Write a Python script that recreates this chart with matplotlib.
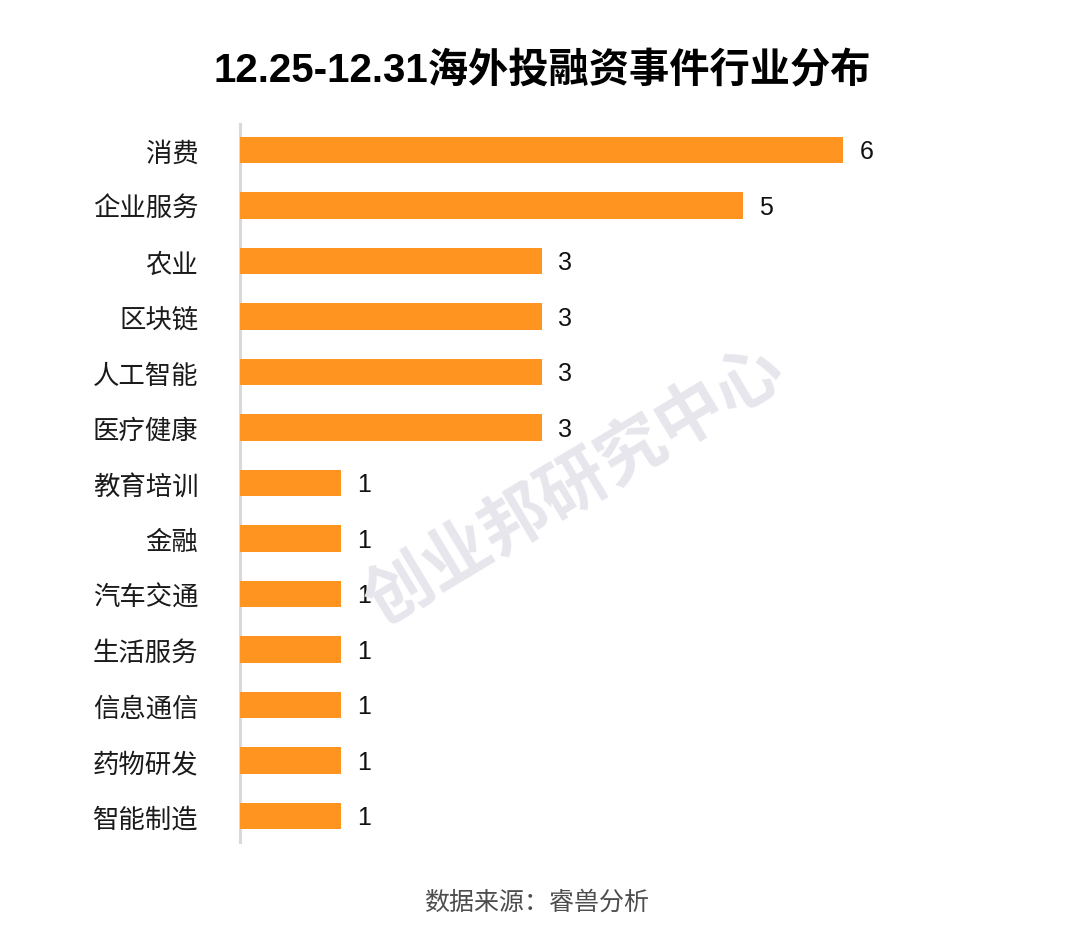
import matplotlib
matplotlib.use("Agg")
import matplotlib.pyplot as plt

plt.rcParams['font.family'] = ['Noto Sans CJK SC', 'DejaVu Sans']

categories = ["消费", "企业服务", "农业", "区块链", "人工智能", "医疗健康",
              "教育培训", "金融", "汽车交通", "生活服务", "信息通信", "药物研发", "智能制造"]
values = [6, 5, 3, 3, 3, 3, 1, 1, 1, 1, 1, 1, 1]

title = "12.25-12.31海外投融资事件行业分布"
source = "数据来源：睿兽分析"
watermark = "创业邦研究中心"

W, H = 1080, 928
fig = plt.figure(figsize=(W / 100, H / 100), dpi=100)
ax = fig.add_axes([240 / W, 1 - 843 / H, 804 / W, (843 - 125) / H])

ypos = list(range(len(categories)))
bars = ax.barh(ypos, values, height=0.48, color="#FF9421", zorder=3)
ax.set_xlim(0, 8)
ax.set_ylim(12.47, -0.47)
ax.set_yticks(ypos)
ax.set_yticklabels(categories, fontsize=19, color="#1a1a1a")
ax.tick_params(axis="y", length=0, pad=30)
ax.set_xticks([])
for s in ["top", "right", "bottom"]:
    ax.spines[s].set_visible(False)
ax.spines["left"].set_color("#d9d9d9")
ax.spines["left"].set_linewidth(2.2)

for b, v in zip(bars, values):
    ax.annotate(str(v), (b.get_width(), b.get_y() + b.get_height() / 2),
                xytext=(12, -1), textcoords="offset points", va="center", ha="left",
                fontsize=18, color="#111111", family=["Liberation Sans", "DejaVu Sans"],
                zorder=5)

fig.text(0.5 * (215 + 870) / W, 1 - 70 / H, title, ha="center", va="center",
         fontsize=29, fontweight="bold", color="#000000",
         family=["Liberation Sans", "Noto Sans CJK SC"])

fig.text(537 / W, 1 - 903 / H, source, ha="center", va="center",
         fontsize=18, color="#4d4d4d")

fig.text(575 / W, 1 - 487 / H, watermark, ha="center", va="center",
         fontsize=49, fontweight="bold", color="#E6E6EC", rotation=31,
         zorder=0)

fig.savefig("out.png", dpi=100)
